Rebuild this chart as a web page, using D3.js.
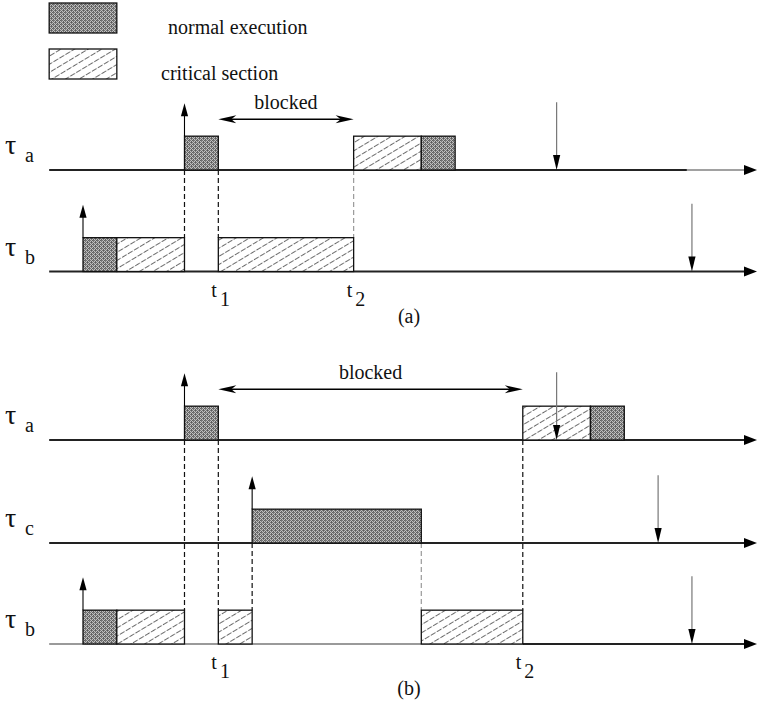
<!DOCTYPE html>
<html>
<head>
<meta charset="utf-8">
<script src="https://cdn.jsdelivr.net/npm/d3@7/dist/d3.min.js"></script>
<style>
  body { margin: 0; background: #fff; }
  svg { display: block; }
</style>
</head>
<body>
<svg id="chart" width="757" height="703"></svg>
<script>
// ---- data -------------------------------------------------------------
const legendLabels = ["normal execution", "critical section"];
const legendKinds = ["normal", "critical"];
const panelLabels = ["(a)", "(b)"];
const blockedLabel = "blocked";
const timeDomain = [0, 21];

// Scenario (a): two tasks sharing a resource
const tasksA = ["a", "b"];
const releaseA = [4, 1];
const deadlineA = [15, 19];
const execA = [
  [[4, 5, "normal"], [9, 11, "critical"], [11, 12, "normal"]],
  [[1, 2, "normal"], [2, 4, "critical"], [5, 9, "critical"]]
];
const axisA = [
  [[0, 18.85, "bold"], [18.85, 21, "thin"]],
  [[0, 21, "bold"]]
];
const instantNamesA = ["1", "2"];
const instantTimesA = [5, 9];
const blockedA = [5, 9];
// [time, from row, to row, style]
const linksA = [[4, 0, 1, "dark"], [5, 0, 1, "dark"], [9, 0, 1, "faint"]];

// Scenario (b): a medium-priority task preempts the blocking task
const tasksB = ["a", "c", "b"];
const releaseB = [4, 6, 1];
const deadlineB = [15, 18, 19];
const execB = [
  [[4, 5, "normal"], [14, 16, "critical"], [16, 17, "normal"]],
  [[6, 11, "normal"]],
  [[1, 2, "normal"], [2, 4, "critical"], [5, 6, "critical"], [11, 14, "critical"]]
];
const axisB = [
  [[0, 21, "bold"]],
  [[0, 21, "bold"]],
  [[0, 14, "faint"], [14, 21, "bold"]]
];
const instantNamesB = ["1", "2"];
const instantTimesB = [5, 14];
const blockedB = [5, 14];
const linksB = [[4, 0, 2, "dark"], [5, 0, 2, "dark"], [6, 1, 2, "dark"], [11, 1, 2, "faint"], [14, 0, 2, "dark"]];

// ---- setup ------------------------------------------------------------
const W = 757, H = 703;
const FONT = "Liberation Serif";
const svg = d3.select("#chart");
const x = d3.scaleLinear().domain(timeDomain).range([49.17, 49.17 + 33.83 * 21]);
const unit = x(1) - x(0);
const axisTip = W;

const defs = svg.append("defs");
// stippled grey fill for normal execution
const stip = defs.append("pattern").attr("id", "stipple")
  .attr("patternUnits", "userSpaceOnUse").attr("width", 4).attr("height", 4);
stip.append("rect").attr("width", 4).attr("height", 4).attr("fill", "#c0c0c0");
[[0,0],[2,0],[1,1],[3,1],[0,2],[2,2],[1,3],[3,3],[1,0],[3,2]].forEach(([px, py], i) => {
  stip.append("rect").attr("x", px).attr("y", py).attr("width", 1).attr("height", 1)
    .attr("fill", i % 3 === 0 ? "#5e5e5e" : "#767676");
});
// diagonal hatch for critical sections
const hatch = defs.append("pattern").attr("id", "hatch")
  .attr("patternUnits", "userSpaceOnUse").attr("width", 14).attr("height", 7)
  .attr("patternTransform", "rotate(-31)");
hatch.append("rect").attr("width", 14).attr("height", 7).attr("fill", "#fff");
hatch.append("line").attr("x1", 0).attr("x2", 14).attr("y1", 3.5).attr("y2", 3.5)
  .attr("stroke", "#3a3a3a").attr("stroke-width", 0.75).attr("stroke-dasharray", "5.5,1.5");

const fillFor = k => k === "normal" ? "url(#stipple)" : "url(#hatch)";

function headPath(tx, ty, dir, len, hw, notch) {
  const n = notch ? len * 0.72 : len;
  let pts;
  if (dir === "up") pts = [[tx, ty], [tx + hw, ty + len], [tx, ty + n], [tx - hw, ty + len]];
  if (dir === "down") pts = [[tx, ty], [tx + hw, ty - len], [tx, ty - n], [tx - hw, ty - len]];
  if (dir === "right") pts = [[tx, ty], [tx - len, ty - hw], [tx - n, ty], [tx - len, ty + hw]];
  if (dir === "left") pts = [[tx, ty], [tx + len, ty - hw], [tx + n, ty], [tx + len, ty + hw]];
  return d3.line()(pts) + "Z";
}

function label(sel, size) {
  return sel.append("text").style("font-family", FONT).style("font-size", size + "px").attr("fill", "#111");
}

// ---- legend -----------------------------------------------------------
const legend = svg.append("g");
const legendY = [3, 49];
const legendTextX = [168, 161];
const legendTextY = [34, 80];
legendKinds.forEach((k, i) => {
  legend.append("rect").attr("x", x(0)).attr("y", legendY[i])
    .attr("width", unit * 2).attr("height", 30)
    .attr("fill", fillFor(k)).attr("stroke", "#111").attr("stroke-width", 1.3);
  label(legend, 20).attr("x", legendTextX[i]).attr("y", legendTextY[i]).text(legendLabels[i]);
});

// ---- panel drawing ----------------------------------------------------
function drawPanel(cfg) {
  const g = svg.append("g");
  const yb = cfg.baselines;

  // dashed connectors between rows
  cfg.links.forEach(([t, r0, r1, style]) => {
    g.append("line").attr("x1", x(t)).attr("x2", x(t))
      .attr("y1", yb[r0]).attr("y2", yb[r1] - unit)
      .attr("stroke", style === "dark" ? "#111" : "#9a9a9a")
      .attr("stroke-width", 1.2).attr("stroke-dasharray", "5,3");
  });

  cfg.tasks.forEach((task, r) => {
    const y0 = yb[r];
    // time axis
    cfg.axes[r].forEach(([a, b, style]) => {
      g.append("line").attr("x1", x(a)).attr("x2", Math.min(x(b), axisTip - 6))
        .attr("y1", y0).attr("y2", y0)
        .attr("stroke", style === "faint" ? "#9a9a9a" : (style === "thin" ? "#444" : "#222"))
        .attr("stroke-width", style === "thin" ? 1.2 : 2);
    });
    g.append("path").attr("d", headPath(axisTip, y0, "right", 13, 5, false)).attr("fill", "#000");

    // execution boxes
    g.selectAll(null).data(cfg.exec[r]).join("rect")
      .attr("x", d => x(d[0])).attr("y", y0 - unit)
      .attr("width", d => x(d[1]) - x(d[0])).attr("height", unit)
      .attr("fill", d => fillFor(d[2]))
      .attr("stroke", "#111").attr("stroke-width", 1.3);

    // release arrow
    const rx = x(cfg.release[r]);
    g.append("line").attr("x1", rx).attr("x2", rx).attr("y1", y0 - unit).attr("y2", y0 - 2 * unit + 6)
      .attr("stroke", "#000").attr("stroke-width", 1.1);
    g.append("path").attr("d", headPath(rx, y0 - 2 * unit + 1, "up", 13, 3.6, false)).attr("fill", "#000");

    // deadline arrow
    const dx = x(cfg.deadline[r]);
    g.append("line").attr("x1", dx).attr("x2", dx).attr("y1", y0 - 2 * unit).attr("y2", y0 - 8)
      .attr("stroke", "#777").attr("stroke-width", 1.2);
    g.append("path").attr("d", headPath(dx, y0, "down", 15, 3.6, false)).attr("fill", "#000");

    // task label
    const lab = label(g, 20).attr("x", 5).attr("y", y0 - 16);
    lab.append("tspan").style("font-size", "28px").text("τ");
    lab.append("tspan").attr("x", 25).attr("y", y0 - 8).text(task);
  });

  // blocked interval
  const by = yb[0] - 1.5 * unit;
  const bx0 = x(cfg.blocked[0]), bx1 = x(cfg.blocked[1]);
  g.append("line").attr("x1", bx0 + 10).attr("x2", bx1 - 10).attr("y1", by).attr("y2", by)
    .attr("stroke", "#000").attr("stroke-width", 1.4);
  g.append("path").attr("d", headPath(bx0, by, "left", 18, 4, true)).attr("fill", "#000");
  g.append("path").attr("d", headPath(bx1, by, "right", 18, 4, true)).attr("fill", "#000");
  label(g, 20).attr("x", (bx0 + bx1) / 2).attr("y", by - 10)
    .attr("text-anchor", "middle").text(blockedLabel);

  // time instants
  const yl = yb[yb.length - 1];
  cfg.instantTimes.forEach((t, i) => {
    const tx = label(g, 20).attr("x", x(t) - 7).attr("y", yl + 25);
    tx.append("tspan").text("t");
    tx.append("tspan").attr("dx", 3).attr("y", yl + 34).text(cfg.instantNames[i]);
  });

  // panel caption
  label(g, 20).attr("x", 409).attr("y", yl + 51)
    .attr("text-anchor", "middle").text(cfg.caption);
}

drawPanel({
  tasks: tasksA, release: releaseA, deadline: deadlineA, exec: execA, axes: axisA,
  instantNames: instantNamesA, instantTimes: instantTimesA, blocked: blockedA,
  links: linksA, baselines: [170, 271.5], caption: panelLabels[0]
});
drawPanel({
  tasks: tasksB, release: releaseB, deadline: deadlineB, exec: execB, axes: axisB,
  instantNames: instantNamesB, instantTimes: instantTimesB, blocked: blockedB,
  links: linksB, baselines: [440, 543, 644], caption: panelLabels[1]
});
</script>
</body>
</html>
